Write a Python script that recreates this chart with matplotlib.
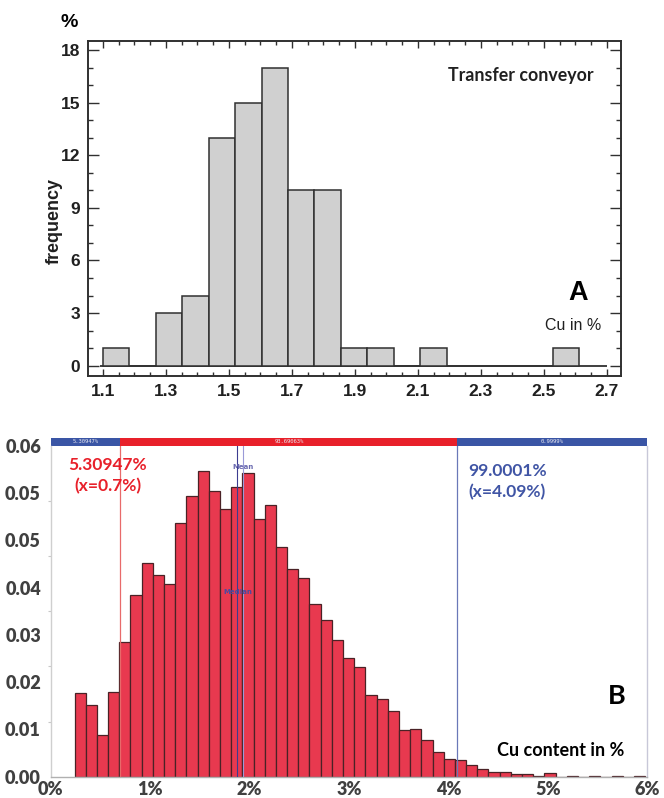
import numpy as np
import matplotlib
matplotlib.use("Agg")
import matplotlib.pyplot as plt
from matplotlib.patches import Rectangle
from matplotlib.ticker import MultipleLocator, FixedLocator
import matplotlib.transforms as mtransforms

# ---------- data: panel A (transfer conveyor, frequency in %) ----------
a_start = 1.1
a_width = 0.084
a_counts = [1, 0, 3, 4, 13, 15, 17, 10, 10, 1, 1, 0, 1, 0, 0, 0, 0, 1]
a_xticks = [1.1, 1.3, 1.5, 1.7, 1.9, 2.1, 2.3, 2.5, 2.7]
a_yticks = [0, 3, 6, 9, 12, 15, 18]

# ---------- data: panel B (Cu content distribution) ----------
b_start = 0.24
b_width = 0.1125
b_heights = [0.0151, 0.0130, 0.0076, 0.0154, 0.0244, 0.0329, 0.0387, 0.0366, 0.0349,
             0.0460, 0.0509, 0.0554, 0.0518, 0.0486, 0.0525, 0.0550, 0.0468, 0.0492,
             0.0416, 0.0377, 0.0360, 0.0313, 0.0284, 0.0247, 0.0216, 0.0199, 0.0148,
             0.0141, 0.0119, 0.0085, 0.0086, 0.0066, 0.0045, 0.0032, 0.0031, 0.0021,
             0.0014, 0.0009, 0.0009, 0.0005, 0.0004, 0.0002, 0.0006, 0.0, 0.0002,
             0.0, 0.0002, 0.0, 0.0002, 0.0, 0.0002]
b_ytick_labels = ['0.00', '0.01', '0.02', '0.03', '0.04', '0.05', '0.05', '0.06']
b_xticks = [0, 1, 2, 3, 4, 5, 6]
lo_cut, hi_cut = 0.7, 4.09
median_x, mean_x = 1.877, 1.932
seg_edges = [0, lo_cut, hi_cut, 6.0]
seg_labels = ['5.30947%', '93.69063%', '0.9999%']

W, H = 664, 798


def fx(x):
    return x / W


def fy(y):
    return 1 - y / H


fig = plt.figure(figsize=(W / 100, H / 100), dpi=100)

# ================= panel A =================
axA = fig.add_axes([fx(88.3), fy(375.7), fx(621.3) - fx(88.3), fy(40.7) - fy(375.7)])
a_edges = a_start + a_width * np.arange(len(a_counts))
axA.bar(a_edges, a_counts, width=a_width, align='edge', color='#d0d0d0',
        edgecolor='#303030', linewidth=1.1, zorder=2)
axA.hlines(0, 1.09, 2.70, color='#303030', lw=1.3, zorder=1)
axA.set_xlim(1.054, 2.746)
axA.set_ylim(-0.57, 18.53)
axA.xaxis.set_major_locator(FixedLocator(a_xticks))
axA.xaxis.set_minor_locator(MultipleLocator(0.05))
axA.yaxis.set_major_locator(FixedLocator(a_yticks))
axA.yaxis.set_minor_locator(MultipleLocator(1))
axA.set_xticklabels(['%.1f' % v for v in a_xticks])
for s in axA.spines.values():
    s.set_color('#303030')
    s.set_linewidth(1.4)
axA.tick_params(axis='both', which='both', direction='in', top=True, right=True,
                color='#303030', width=1.0)
axA.tick_params(axis='y', which='major', length=8, pad=6)
axA.tick_params(axis='y', which='minor', length=3.6)
axA.tick_params(axis='x', which='major', length=5, pad=6)
axA.tick_params(axis='x', which='minor', length=2.6)
for lab in axA.get_xticklabels() + axA.get_yticklabels():
    lab.set_fontfamily('Liberation Sans')
    lab.set_fontweight('bold')
    lab.set_fontsize(12.5)
    lab.set_color('#202020')

fig.text(fx(69.5), fy(22.5), '%', ha='center', va='center', fontsize=14,
         fontweight='bold', family='Liberation Sans')
fig.text(fx(54), fy(221.5), 'frequency', ha='center', va='center', rotation=90,
         fontsize=13, fontweight='bold', family='Liberation Sans', color='#202020')
fig.text(fx(520.7), fy(76), 'Transfer conveyor', ha='center', va='center',
         fontsize=12.8, fontweight='bold', family='Lato', color='#202020')
fig.text(fx(578.5), fy(293), 'A', ha='center', va='center', fontsize=19.5,
         fontweight='bold', family='Liberation Sans')
fig.text(fx(573.5), fy(326), 'Cu in %', ha='center', va='center', fontsize=11.5,
         family='Liberation Sans', color='#202020')

# ================= panel B =================
axB = fig.add_axes([fx(50.7), fy(776.7), fx(647.3) - fx(50.7), fy(445.7) - fy(776.7)])
b_edges = b_start + b_width * np.arange(len(b_heights))
axB.bar(b_edges, b_heights, width=b_width, align='edge', color='#e8394f',
        edgecolor='#4a2226', linewidth=0.9, zorder=2)
axB.set_xlim(0, 6)
axB.set_ylim(0, 0.06)

axB.axvline(lo_cut, color='#e86a6a', lw=0.9, zorder=3)
axB.axvline(hi_cut, color='#6a78b8', lw=0.9, zorder=3)
axB.axvline(median_x, color='#3c3c90', lw=0.8, zorder=3)
axB.axvline(mean_x, color='#9a9ad8', lw=0.8, zorder=3)
axB.text(median_x, 0.0335, 'Median', ha='center', va='center', fontsize=5,
         fontweight='bold', color='#4a4aa0', zorder=4)
axB.text(mean_x, 0.0561, 'Mean', ha='center', va='center', fontsize=5,
         fontweight='bold', color='#6a6ab0', zorder=4)

# percentile strip above the plot
trans = mtransforms.blended_transform_factory(axB.transData, axB.transAxes)
seg_colors = ['#3a55a5', '#e8202a', '#3a55a5']
for i in range(3):
    x0, x1 = seg_edges[i], seg_edges[i + 1]
    axB.add_patch(Rectangle((x0, 1.0), x1 - x0, 0.024, transform=trans,
                            facecolor=seg_colors[i], edgecolor='none', clip_on=False))
    axB.text((x0 + x1) / 2, 1.012, seg_labels[i], transform=trans, ha='center',
             va='center', fontsize=4, family='DejaVu Sans Mono', color='#e8e8f0')

# y ticks: labels spread evenly, small marks every 0.01
axB.yaxis.set_major_locator(FixedLocator(np.linspace(0, 0.06, len(b_ytick_labels))))
axB.set_yticklabels(b_ytick_labels)
axB.yaxis.set_minor_locator(MultipleLocator(0.01))
axB.tick_params(axis='y', which='major', length=0, pad=7)
axB.tick_params(axis='y', which='minor', length=2.5, color='#c8c8c8', width=0.8)
axB.set_xticks(b_xticks)
axB.set_xticklabels(['%d%%' % v for v in b_xticks])
axB.tick_params(axis='x', length=0, pad=3)
for lab in axB.get_xticklabels() + axB.get_yticklabels():
    lab.set_fontfamily('Lato')
    lab.set_fontweight('heavy')
    lab.set_fontsize(13)
    lab.set_color('#404040')

axB.spines['top'].set_visible(False)
axB.spines['left'].set_color('#cfcfcf')
axB.spines['right'].set_color('#c8c8d8')
axB.spines['bottom'].set_color('#b0b0b0')
for s in axB.spines.values():
    s.set_linewidth(1.0)

fig.text(fx(108), fy(465), '5.30947%', ha='center', va='center', fontsize=12.5,
         fontweight='bold', family='Lato', color='#e8202a')
fig.text(fx(108), fy(486), '(x=0.7%)', ha='center', va='center', fontsize=12.5,
         fontweight='bold', family='Lato', color='#e8202a')
fig.text(fx(468), fy(471), '99.0001%', ha='left', va='center', fontsize=12.5,
         fontweight='bold', family='Lato', color='#4055a5')
fig.text(fx(468), fy(492), '(x=4.09%)', ha='left', va='center', fontsize=12.5,
         fontweight='bold', family='Lato', color='#4055a5')
fig.text(fx(616.5), fy(696.5), 'B', ha='center', va='center', fontsize=19.5,
         fontweight='bold', family='Lato')
fig.text(fx(560.7), fy(751), 'Cu content in %', ha='center', va='center',
         fontsize=13, fontweight='bold', family='Lato')

fig.savefig('out.png', dpi=100)
